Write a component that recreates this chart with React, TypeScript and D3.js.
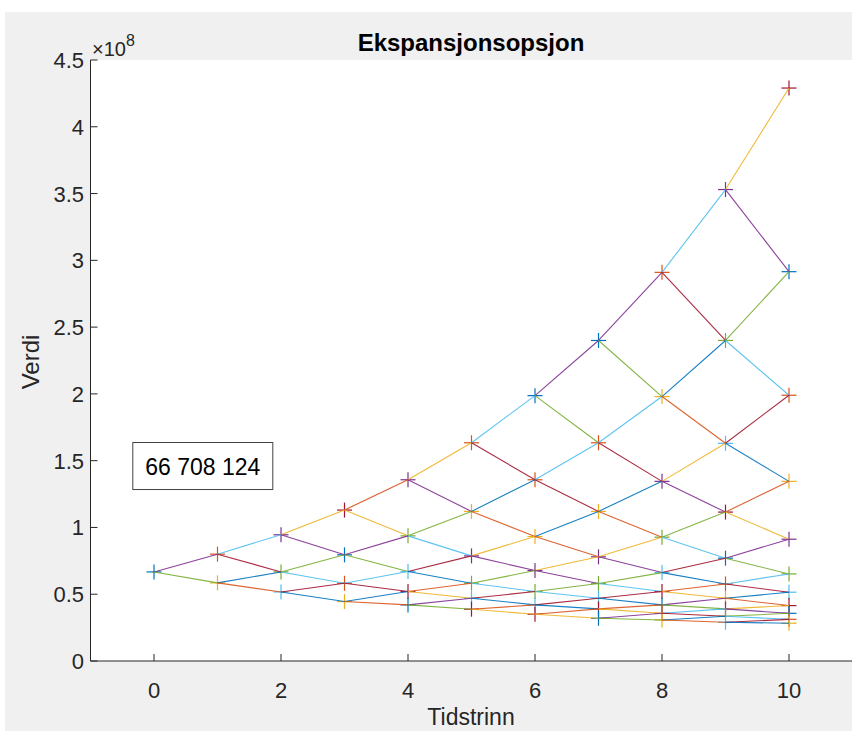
import React from 'react';
import * as d3 from 'd3';

// Tidstrinn (time steps) and node values (x 1e8), listed top to bottom for each step
const timeSteps = [0, 1, 2, 3, 4, 5, 6, 7, 8, 9, 10];
const step0 = [0.667];
const step1 = [0.8, 0.585];
const step2 = [0.945, 0.667, 0.517];
const step3 = [1.13, 0.795, 0.582, 0.445];
const step4 = [1.357, 0.937, 0.67, 0.52, 0.42];
const step5 = [1.634, 1.12, 0.787, 0.582, 0.47, 0.388];
const step6 = [1.987, 1.357, 0.932, 0.677, 0.52, 0.42, 0.35];
const step7 = [2.4, 1.634, 1.12, 0.78, 0.58, 0.47, 0.39, 0.32];
const step8 = [2.91, 1.98, 1.345, 0.927, 0.662, 0.52, 0.42, 0.357, 0.307];
const step9 = [3.53, 2.4, 1.63, 1.115, 0.77, 0.577, 0.47, 0.39, 0.335, 0.29];
const step10 = [4.29, 2.915, 1.99, 1.345, 0.912, 0.652, 0.515, 0.415, 0.357, 0.312, 0.283];
const treeValues = [step0, step1, step2, step3, step4, step5, step6, step7, step8, step9, step10];

const xTicks = [0, 2, 4, 6, 8, 10];
const xTickLabels = ['0', '2', '4', '6', '8', '10'];
const yTicks = [0, 0.5, 1, 1.5, 2, 2.5, 3, 3.5, 4, 4.5];
const yTickLabels = ['0', '0.5', '1', '1.5', '2', '2.5', '3', '3.5', '4', '4.5'];

const titleText = 'Ekspansjonsopsjon';
const xLabel = 'Tidstrinn';
const yLabel = 'Verdi';
const rootLabel = '66 708 124';
const rootLabelPos = [0.8, 1.46];

const colorOrder = ['#0072BD', '#D95319', '#EDB120', '#7E2F8E', '#77AC30', '#4DBEEE', '#A2142F'];

const W = 852;
const H = 731;
const FONT = '"Liberation Sans", Arial, Helvetica, sans-serif';
const AX = '#262626';

export default function App() {
  const x = d3.scaleLinear().domain([-1, 11]).range([90.5, 852.5]);
  const y = d3.scaleLinear().domain([0, 4.5]).range([661, 60]);

  // markers: one plot per node, colour cycling
  const markers: { t: number; v: number; c: string }[] = [];
  let k = 0;
  treeValues.forEach((vals, i) => {
    vals.forEach((v) => {
      markers.push({ t: timeSteps[i], v, c: colorOrder[k % 7] });
      k++;
    });
  });
  // segments: one plot per branch, colour cycle continues
  const segs: { t0: number; v0: number; t1: number; v1: number; c: string }[] = [];
  for (let i = 0; i < treeValues.length - 1; i++) {
    treeValues[i].forEach((v, j) => {
      const up = treeValues[i + 1][j];
      const dn = treeValues[i + 1][j + 1];
      segs.push({ t0: timeSteps[i], v0: v, t1: timeSteps[i + 1], v1: up, c: colorOrder[k % 7] });
      k++;
      segs.push({ t0: timeSteps[i], v0: v, t1: timeSteps[i + 1], v1: dn, c: colorOrder[k % 7] });
      k++;
    });
  }

  const line = d3.line<[number, number]>().x((d) => x(d[0])).y((d) => y(d[1]));
  const ms = 7.5;
  const left = x(-1);
  const bottom = y(0);
  const top = y(4.5);

  return (
    <svg width={W} height={H} style={{ position: 'absolute', left: 0, top: 0, background: '#fff' }} fontFamily={FONT}>
      <rect x={5} y={12} width={W - 5} height={H - 12} fill="#f0f0f0" />
      <rect x={left} y={top} width={W - left} height={bottom - top} fill="#fff" />

      {/* markers */}
      {markers.map((m, i) => (
        <g key={'m' + i} stroke={m.c} strokeWidth={1.2}>
          <line x1={x(m.t) - ms} x2={x(m.t) + ms} y1={y(m.v)} y2={y(m.v)} />
          <line x1={x(m.t)} x2={x(m.t)} y1={y(m.v) - ms} y2={y(m.v) + ms} />
        </g>
      ))}
      {/* branches */}
      {segs.map((s, i) => (
        <path key={'s' + i} d={line([[s.t0, s.v0], [s.t1, s.v1]]) || ''} stroke={s.c} strokeWidth={1.1} strokeOpacity={0.9} fill="none" />
      ))}

      {/* axes */}
      <line x1={left} x2={W} y1={bottom} y2={bottom} stroke={AX} strokeWidth={1} />
      <line x1={left} x2={left} y1={top} y2={bottom} stroke={AX} strokeWidth={1} />
      {xTicks.map((t, i) => (
        <g key={'xt' + i}>
          <line x1={x(t)} x2={x(t)} y1={bottom} y2={bottom - 7} stroke={AX} />
          <text x={x(t)} y={698} textAnchor="middle" fontSize={22} fill={AX}>{xTickLabels[i]}</text>
        </g>
      ))}
      {yTicks.map((t, i) => (
        <g key={'yt' + i}>
          <line x1={left} x2={left + 7} y1={y(t)} y2={y(t)} stroke={AX} />
          <text x={84} y={y(t) + 8} textAnchor="end" fontSize={22} fill={AX}>{yTickLabels[i]}</text>
        </g>
      ))}
      <text x={92} y={56} fontSize={20} fill={AX}>
        ×10<tspan dy={-10} fontSize={16}>8</tspan>
      </text>

      <text x={471} y={51} textAnchor="middle" fontSize={24} fontWeight="bold" fill="#000">{titleText}</text>
      <text x={471} y={725} textAnchor="middle" fontSize={23} fill={AX}>{xLabel}</text>
      <text transform={`translate(39,362) rotate(-90)`} textAnchor="middle" fontSize={24} fill={AX}>{yLabel}</text>

      {/* root value annotation */}
      <g>
        <rect x={x(rootLabelPos[0]) - 72} y={y(rootLabelPos[1]) - 23.5} width={140} height={47} fill="#fff" stroke="#444" strokeWidth={1} />
        <text x={x(rootLabelPos[0]) - 2} y={y(rootLabelPos[1]) + 8.5} textAnchor="middle" fontSize={23} fill="#000">{rootLabel}</text>
      </g>
    </svg>
  );
}
